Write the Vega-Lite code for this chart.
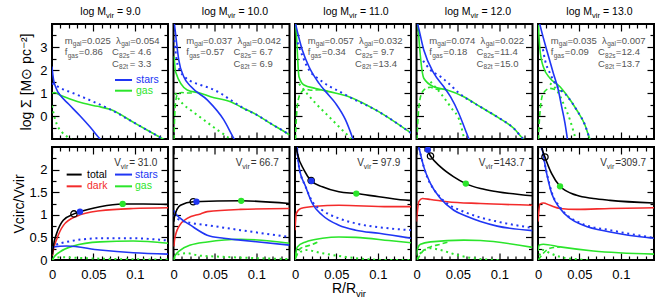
{
"$schema":"https://vega.github.io/schema/vega-lite/v6.json",
"autosize":{"type":"none"},
"padding":{"left":51,"top":24,"right":613,"bottom":282},
"config":{"font":"Liberation Sans","view":{"stroke":"#000","strokeWidth":2},
 "axis":{"grid":false,"domain":false,"labelColor":"#000","titleColor":"#000","tickColor":"#000","tickWidth":1.2,"labelFont":"Liberation Sans","titleFont":"Liberation Sans","labelFlush":false,"labelOverlap":false,"titleFontWeight":"normal"}},
"datasets":{
"top":[
{"M":9,"k":"par","a":0.025,"b":0.054,"c":0.86,"d":4.6,"e":3.3},
{"M":10,"k":"par","a":0.037,"b":0.042,"c":0.57,"d":6.7,"e":6.9},
{"M":11,"k":"par","a":0.057,"b":0.032,"c":0.34,"d":9.7,"e":13.4},
{"M":12,"k":"par","a":0.074,"b":0.022,"c":0.18,"d":11.4,"e":15.0},
{"M":13,"k":"par","a":0.035,"b":0.007,"c":0.09,"d":12.4,"e":13.7},
{"M":9,"s":"stars","x":0,"y":2.15},{"M":9,"s":"stars","x":0.001,"y":1.8},{"M":9,"s":"stars","x":0.002,"y":1.55},{"M":9,"s":"stars","x":0.004,"y":1.3},{"M":9,"s":"stars","x":0.007,"y":1.05},{"M":9,"s":"stars","x":0.0097,"y":0.91},{"M":9,"s":"stars","x":0.02,"y":0.52},{"M":9,"s":"stars","x":0.034,"y":0.0},{"M":9,"s":"stars","x":0.046,"y":-0.48},{"M":9,"s":"stars","x":0.058,"y":-1.0},{"M":9,"s":"stars","x":0.062,"y":-1.15},
{"M":9,"s":"starsd","x":0,"y":1.42},{"M":9,"s":"starsd","x":0.01,"y":1.22},{"M":9,"s":"starsd","x":0.03,"y":0.93},{"M":9,"s":"starsd","x":0.05,"y":0.62},{"M":9,"s":"starsd","x":0.07,"y":0.29},{"M":9,"s":"starsd","x":0.1,"y":-0.31},{"M":9,"s":"starsd","x":0.134,"y":-1.0},{"M":9,"s":"starsd","x":0.14,"y":-1.12},
{"M":9,"s":"gas","x":0,"y":1.0},{"M":9,"s":"gas","x":0.003,"y":1.02},{"M":9,"s":"gas","x":0.01,"y":0.9},{"M":9,"s":"gas","x":0.02,"y":0.76},{"M":9,"s":"gas","x":0.038,"y":0.55},{"M":9,"s":"gas","x":0.055,"y":0.42},{"M":9,"s":"gas","x":0.07,"y":0.29},{"M":9,"s":"gas","x":0.1,"y":-0.31},{"M":9,"s":"gas","x":0.134,"y":-1.0},{"M":9,"s":"gas","x":0.14,"y":-1.12},
{"M":9,"s":"gasd","x":0,"y":0.45},{"M":9,"s":"gasd","x":0.002,"y":0.1},{"M":9,"s":"gasd","x":0.0057,"y":-0.35},{"M":9,"s":"gasd","x":0.012,"y":-0.7},{"M":9,"s":"gasd","x":0.0197,"y":-0.94},{"M":9,"s":"gasd","x":0.024,"y":-1.05},
{"M":10,"s":"stars","x":0.0008,"y":4.1},{"M":10,"s":"stars","x":0.0024,"y":3.6},{"M":10,"s":"stars","x":0.0064,"y":2.43},{"M":10,"s":"stars","x":0.0124,"y":1.71},{"M":10,"s":"stars","x":0.021,"y":1.28},{"M":10,"s":"stars","x":0.0407,"y":0.7},{"M":10,"s":"stars","x":0.0607,"y":-0.17},{"M":10,"s":"stars","x":0.0728,"y":-0.97},{"M":10,"s":"stars","x":0.075,"y":-1.1},
{"M":10,"s":"starsd","x":0.001,"y":3.3},{"M":10,"s":"starsd","x":0.004,"y":2.4},{"M":10,"s":"starsd","x":0.008,"y":1.95},{"M":10,"s":"starsd","x":0.013,"y":1.72},{"M":10,"s":"starsd","x":0.0205,"y":1.52},{"M":10,"s":"starsd","x":0.0326,"y":1.35},{"M":10,"s":"starsd","x":0.0447,"y":1.2},{"M":10,"s":"starsd","x":0.0567,"y":0.99},{"M":10,"s":"starsd","x":0.0688,"y":0.7},{"M":10,"s":"starsd","x":0.0849,"y":0.33},{"M":10,"s":"starsd","x":0.101,"y":0.04},{"M":10,"s":"starsd","x":0.117,"y":-0.32},{"M":10,"s":"starsd","x":0.137,"y":-0.75},{"M":10,"s":"starsd","x":0.14,"y":-0.82},
{"M":10,"s":"gas","x":0.0008,"y":2.6},{"M":10,"s":"gas","x":0.0024,"y":1.93},{"M":10,"s":"gas","x":0.0165,"y":1.13},{"M":10,"s":"gas","x":0.0326,"y":0.99},{"M":10,"s":"gas","x":0.0447,"y":0.84},{"M":10,"s":"gas","x":0.0688,"y":0.62},{"M":10,"s":"gas","x":0.0849,"y":0.33},{"M":10,"s":"gas","x":0.101,"y":0.04},{"M":10,"s":"gas","x":0.117,"y":-0.32},{"M":10,"s":"gas","x":0.137,"y":-0.75},{"M":10,"s":"gas","x":0.14,"y":-0.82},
{"M":10,"s":"gasdash","x":0.0005,"y":-1.05},{"M":10,"s":"gasdash","x":0.0012,"y":-0.2},{"M":10,"s":"gasdash","x":0.0025,"y":0.6},{"M":10,"s":"gasdash","x":0.005,"y":0.95},{"M":10,"s":"gasdash","x":0.01,"y":1.02},{"M":10,"s":"gasdash","x":0.016,"y":1.0},{"M":10,"s":"gasdash","x":0.025,"y":1.0},
{"M":10,"s":"gasd","x":0.002,"y":1.0},{"M":10,"s":"gasd","x":0.0045,"y":0.84},{"M":10,"s":"gasd","x":0.012,"y":0.5},{"M":10,"s":"gasd","x":0.0205,"y":0.26},{"M":10,"s":"gasd","x":0.0367,"y":-0.17},{"M":10,"s":"gasd","x":0.0527,"y":-0.6},{"M":10,"s":"gasd","x":0.0648,"y":-0.9},{"M":10,"s":"gasd","x":0.07,"y":-1.05},
{"M":11,"s":"stars","x":0,"y":4.1},{"M":11,"s":"stars","x":0.0088,"y":2.87},{"M":11,"s":"stars","x":0.0169,"y":2.14},{"M":11,"s":"stars","x":0.029,"y":1.42},{"M":11,"s":"stars","x":0.037,"y":1.06},{"M":11,"s":"stars","x":0.049,"y":0.55},{"M":11,"s":"stars","x":0.061,"y":-0.17},{"M":11,"s":"stars","x":0.069,"y":-0.9},{"M":11,"s":"stars","x":0.071,"y":-1.1},
{"M":11,"s":"starsd","x":0.003,"y":3.2},{"M":11,"s":"starsd","x":0.0169,"y":2.0},{"M":11,"s":"starsd","x":0.029,"y":1.6},{"M":11,"s":"starsd","x":0.041,"y":1.3},{"M":11,"s":"starsd","x":0.053,"y":1.08},{"M":11,"s":"starsd","x":0.065,"y":0.84},{"M":11,"s":"starsd","x":0.101,"y":0.19},{"M":11,"s":"starsd","x":0.1376,"y":-0.68},{"M":11,"s":"starsd","x":0.14,"y":-0.74},
{"M":11,"s":"gas","x":0.0005,"y":4.1},{"M":11,"s":"gas","x":0.0016,"y":3.6},{"M":11,"s":"gas","x":0.0048,"y":1.71},{"M":11,"s":"gas","x":0.0109,"y":1.35},{"M":11,"s":"gas","x":0.025,"y":1.2},{"M":11,"s":"gas","x":0.041,"y":1.06},{"M":11,"s":"gas","x":0.065,"y":0.84},{"M":11,"s":"gas","x":0.101,"y":0.19},{"M":11,"s":"gas","x":0.1376,"y":-0.68},{"M":11,"s":"gas","x":0.14,"y":-0.74},
{"M":11,"s":"gasdash","x":0.0005,"y":-1.05},{"M":11,"s":"gasdash","x":0.0015,"y":-0.2},{"M":11,"s":"gasdash","x":0.003,"y":0.5},{"M":11,"s":"gasdash","x":0.0069,"y":1.0},{"M":11,"s":"gasdash","x":0.0129,"y":1.16},{"M":11,"s":"gasdash","x":0.0189,"y":1.12},{"M":11,"s":"gasdash","x":0.03,"y":1.14},{"M":11,"s":"gasdash","x":0.041,"y":1.06},
{"M":11,"s":"gasd","x":0.005,"y":1.4},{"M":11,"s":"gasd","x":0.0109,"y":1.13},{"M":11,"s":"gasd","x":0.025,"y":0.55},{"M":11,"s":"gasd","x":0.041,"y":-0.03},{"M":11,"s":"gasd","x":0.057,"y":-0.61},{"M":11,"s":"gasd","x":0.065,"y":-0.9},{"M":11,"s":"gasd","x":0.068,"y":-1.05},
{"M":12,"s":"stars","x":0.0005,"y":4.1},{"M":12,"s":"stars","x":0.0016,"y":3.96},{"M":12,"s":"stars","x":0.0088,"y":2.87},{"M":12,"s":"stars","x":0.0209,"y":1.86},{"M":12,"s":"stars","x":0.033,"y":1.27},{"M":12,"s":"stars","x":0.041,"y":0.84},{"M":12,"s":"stars","x":0.051,"y":0.12},{"M":12,"s":"stars","x":0.059,"y":-0.61},{"M":12,"s":"stars","x":0.063,"y":-0.97},{"M":12,"s":"stars","x":0.065,"y":-1.1},
{"M":12,"s":"starsd","x":0.008,"y":2.4},{"M":12,"s":"starsd","x":0.0169,"y":2.0},{"M":12,"s":"starsd","x":0.029,"y":1.71},{"M":12,"s":"starsd","x":0.041,"y":1.35},{"M":12,"s":"starsd","x":0.0491,"y":1.06},{"M":12,"s":"starsd","x":0.057,"y":0.84},{"M":12,"s":"starsd","x":0.077,"y":0.4},{"M":12,"s":"starsd","x":0.097,"y":-0.03},{"M":12,"s":"starsd","x":0.1175,"y":-0.54},{"M":12,"s":"starsd","x":0.1295,"y":-1.01},{"M":12,"s":"starsd","x":0.132,"y":-1.07},
{"M":12,"s":"gas","x":0.001,"y":4.1},{"M":12,"s":"gas","x":0.0016,"y":3.96},{"M":12,"s":"gas","x":0.004,"y":2.87},{"M":12,"s":"gas","x":0.0069,"y":1.93},{"M":12,"s":"gas","x":0.0088,"y":1.64},{"M":12,"s":"gas","x":0.0209,"y":1.27},{"M":12,"s":"gas","x":0.037,"y":1.13},{"M":12,"s":"gas","x":0.057,"y":0.84},{"M":12,"s":"gas","x":0.077,"y":0.4},{"M":12,"s":"gas","x":0.097,"y":-0.03},{"M":12,"s":"gas","x":0.1175,"y":-0.54},{"M":12,"s":"gas","x":0.1295,"y":-1.01},{"M":12,"s":"gas","x":0.132,"y":-1.07},
{"M":12,"s":"gasdash","x":0.0005,"y":-1.05},{"M":12,"s":"gasdash","x":0.002,"y":0.0},{"M":12,"s":"gasdash","x":0.004,"y":0.7},{"M":12,"s":"gasdash","x":0.0088,"y":1.13},{"M":12,"s":"gasdash","x":0.0169,"y":1.25},{"M":12,"s":"gasdash","x":0.0229,"y":1.16},{"M":12,"s":"gasdash","x":0.03,"y":1.18},{"M":12,"s":"gasdash","x":0.037,"y":1.13},
{"M":12,"s":"gasd","x":0.0169,"y":1.49},{"M":12,"s":"gasd","x":0.029,"y":0.99},{"M":12,"s":"gasd","x":0.041,"y":0.4},{"M":12,"s":"gasd","x":0.0531,"y":-0.32},{"M":12,"s":"gasd","x":0.0571,"y":-0.9},{"M":12,"s":"gasd","x":0.059,"y":-1.05},
{"M":13,"s":"stars","x":0.0015,"y":4.1},{"M":13,"s":"stars","x":0.0024,"y":3.96},{"M":13,"s":"stars","x":0.0105,"y":2.87},{"M":13,"s":"stars","x":0.0185,"y":1.86},{"M":13,"s":"stars","x":0.0245,"y":1.13},{"M":13,"s":"stars","x":0.0286,"y":0.4},{"M":13,"s":"stars","x":0.0326,"y":-0.32},{"M":13,"s":"stars","x":0.0354,"y":-0.97},{"M":13,"s":"stars","x":0.036,"y":-1.1},
{"M":13,"s":"starsd","x":0.006,"y":2.9},{"M":13,"s":"starsd","x":0.0085,"y":2.43},{"M":13,"s":"starsd","x":0.0145,"y":1.86},{"M":13,"s":"starsd","x":0.0205,"y":1.42},{"M":13,"s":"starsd","x":0.0266,"y":1.15},{"M":13,"s":"starsd","x":0.033,"y":0.95},{"M":13,"s":"starsd","x":0.0467,"y":0.26},{"M":13,"s":"starsd","x":0.0567,"y":-0.39},{"M":13,"s":"starsd","x":0.0628,"y":-1.01},{"M":13,"s":"starsd","x":0.064,"y":-1.1},
{"M":13,"s":"gas","x":0.0004,"y":3.96},{"M":13,"s":"gas","x":0.0024,"y":2.87},{"M":13,"s":"gas","x":0.0064,"y":2.14},{"M":13,"s":"gas","x":0.0145,"y":1.64},{"M":13,"s":"gas","x":0.0266,"y":1.27},{"M":13,"s":"gas","x":0.0346,"y":0.91},{"M":13,"s":"gas","x":0.0467,"y":0.26},{"M":13,"s":"gas","x":0.0567,"y":-0.39},{"M":13,"s":"gas","x":0.0628,"y":-1.01},{"M":13,"s":"gas","x":0.064,"y":-1.1},
{"M":13,"s":"gasdash","x":0.0005,"y":-1.05},{"M":13,"s":"gasdash","x":0.0015,"y":-0.3},{"M":13,"s":"gasdash","x":0.003,"y":0.4},{"M":13,"s":"gasdash","x":0.0064,"y":0.99},{"M":13,"s":"gasdash","x":0.0145,"y":1.2},{"M":13,"s":"gasdash","x":0.0226,"y":1.13},{"M":13,"s":"gasdash","x":0.03,"y":1.08},
{"M":13,"s":"gasd","x":0.0145,"y":1.42},{"M":13,"s":"gasd","x":0.0226,"y":1.13},{"M":13,"s":"gasd","x":0.0306,"y":0.55},{"M":13,"s":"gasd","x":0.0386,"y":-0.17},{"M":13,"s":"gasd","x":0.0447,"y":-0.9},{"M":13,"s":"gasd","x":0.046,"y":-1.05}
],
"bot":[
{"M":9,"k":"par","v":31.0},{"M":10,"k":"par","v":66.7},{"M":11,"k":"par","v":97.9},{"M":12,"k":"par","v":143.7},{"M":13,"k":"par","v":309.7},
{"M":9,"k":"mk","t":"total","x":0.0265,"y":1.02},{"M":9,"k":"mk","t":"stars","x":0.0338,"y":1.07},{"M":9,"k":"mk","t":"gas","x":0.0853,"y":1.24},
{"M":10,"k":"mk","t":"total","x":0.0238,"y":1.29},{"M":10,"k":"mk","t":"stars","x":0.0277,"y":1.29},{"M":10,"k":"mk","t":"gas","x":0.0817,"y":1.31},
{"M":11,"k":"mk","t":"total","x":0.0195,"y":1.76},{"M":11,"k":"mk","t":"stars","x":0.0197,"y":1.75},{"M":11,"k":"mk","t":"gas","x":0.074,"y":1.47},
{"M":12,"k":"mk","t":"total","x":0.0169,"y":2.3},{"M":12,"k":"mk","t":"stars","x":0.0137,"y":2.44},{"M":12,"k":"mk","t":"gas","x":0.0595,"y":1.69},
{"M":13,"k":"mk","t":"total","x":0.0084,"y":2.28},{"M":13,"k":"mk","t":"gas","x":0.0266,"y":1.63},
{"M":9,"s":"total","x":0.0005,"y":0.12},{"M":9,"s":"total","x":0.0016,"y":0.3},{"M":9,"s":"total","x":0.0057,"y":0.59},{"M":9,"s":"total","x":0.0136,"y":0.88},{"M":9,"s":"total","x":0.0265,"y":1.02},{"M":9,"s":"total","x":0.0338,"y":1.07},{"M":9,"s":"total","x":0.0579,"y":1.18},{"M":9,"s":"total","x":0.0853,"y":1.24},{"M":9,"s":"total","x":0.11,"y":1.24},{"M":9,"s":"total","x":0.14,"y":1.23},
{"M":9,"s":"dark","x":0.0005,"y":0.1},{"M":9,"s":"dark","x":0.0016,"y":0.22},{"M":9,"s":"dark","x":0.0057,"y":0.46},{"M":9,"s":"dark","x":0.0136,"y":0.76},{"M":9,"s":"dark","x":0.0298,"y":0.97},{"M":9,"s":"dark","x":0.0579,"y":1.09},{"M":9,"s":"dark","x":0.0981,"y":1.14},{"M":9,"s":"dark","x":0.14,"y":1.155},
{"M":9,"s":"stars","x":0.0005,"y":0.25},{"M":9,"s":"stars","x":0.0016,"y":0.29},{"M":9,"s":"stars","x":0.0177,"y":0.31},{"M":9,"s":"stars","x":0.0579,"y":0.22},{"M":9,"s":"stars","x":0.0981,"y":0.16},{"M":9,"s":"stars","x":0.14,"y":0.13},
{"M":9,"s":"starsd","x":0.0005,"y":0.25},{"M":9,"s":"starsd","x":0.0016,"y":0.3},{"M":9,"s":"starsd","x":0.0177,"y":0.4},{"M":9,"s":"starsd","x":0.0579,"y":0.48},{"M":9,"s":"starsd","x":0.0981,"y":0.48},{"M":9,"s":"starsd","x":0.14,"y":0.43},
{"M":9,"s":"gas","x":0.0005,"y":0.0},{"M":9,"s":"gas","x":0.0016,"y":0.04},{"M":9,"s":"gas","x":0.0097,"y":0.18},{"M":9,"s":"gas","x":0.0257,"y":0.31},{"M":9,"s":"gas","x":0.0579,"y":0.4},{"M":9,"s":"gas","x":0.0981,"y":0.42},{"M":9,"s":"gas","x":0.14,"y":0.37},
{"M":9,"s":"gasd","x":0.0005,"y":0.0},{"M":9,"s":"gasd","x":0.005,"y":0.05},{"M":9,"s":"gasd","x":0.012,"y":0.06},{"M":9,"s":"gasd","x":0.04,"y":0.04},{"M":9,"s":"gasd","x":0.08,"y":0.02},{"M":9,"s":"gasd","x":0.14,"y":0.01},
{"M":10,"s":"total","x":0.0005,"y":0.85},{"M":10,"s":"total","x":0.0012,"y":0.96},{"M":10,"s":"total","x":0.0084,"y":1.21},{"M":10,"s":"total","x":0.0238,"y":1.29},{"M":10,"s":"total","x":0.0817,"y":1.31},{"M":10,"s":"total","x":0.14,"y":1.25},
{"M":10,"s":"dark","x":0.0005,"y":0.3},{"M":10,"s":"dark","x":0.0012,"y":0.44},{"M":10,"s":"dark","x":0.0064,"y":0.74},{"M":10,"s":"dark","x":0.0165,"y":0.92},{"M":10,"s":"dark","x":0.0326,"y":1.02},{"M":10,"s":"dark","x":0.0407,"y":1.07},{"M":10,"s":"dark","x":0.0809,"y":1.12},{"M":10,"s":"dark","x":0.14,"y":1.14},
{"M":10,"s":"stars","x":0.0005,"y":1.1},{"M":10,"s":"stars","x":0.0012,"y":1.07},{"M":10,"s":"stars","x":0.0084,"y":0.92},{"M":10,"s":"stars","x":0.0205,"y":0.77},{"M":10,"s":"stars","x":0.0407,"y":0.55},{"M":10,"s":"stars","x":0.0607,"y":0.48},{"M":10,"s":"stars","x":0.0809,"y":0.44},{"M":10,"s":"stars","x":0.14,"y":0.33},
{"M":10,"s":"starsd","x":0.0005,"y":1.0},{"M":10,"s":"starsd","x":0.0012,"y":0.96},{"M":10,"s":"starsd","x":0.0084,"y":0.88},{"M":10,"s":"starsd","x":0.0245,"y":0.81},{"M":10,"s":"starsd","x":0.0407,"y":0.77},{"M":10,"s":"starsd","x":0.0809,"y":0.66},{"M":10,"s":"starsd","x":0.14,"y":0.51},
{"M":10,"s":"gas","x":0.0005,"y":0.0},{"M":10,"s":"gas","x":0.0012,"y":0.07},{"M":10,"s":"gas","x":0.0084,"y":0.22},{"M":10,"s":"gas","x":0.0205,"y":0.33},{"M":10,"s":"gas","x":0.0407,"y":0.4},{"M":10,"s":"gas","x":0.0809,"y":0.46},{"M":10,"s":"gas","x":0.14,"y":0.37},
{"M":10,"s":"gasd","x":0.0005,"y":0.02},{"M":10,"s":"gasd","x":0.005,"y":0.12},{"M":10,"s":"gasd","x":0.0165,"y":0.15},{"M":10,"s":"gasd","x":0.03,"y":0.1},{"M":10,"s":"gasd","x":0.06,"y":0.07},{"M":10,"s":"gasd","x":0.14,"y":0.02},
{"M":11,"s":"total","x":0.0003,"y":2.6},{"M":11,"s":"total","x":0.0028,"y":2.36},{"M":11,"s":"total","x":0.0109,"y":1.99},{"M":11,"s":"total","x":0.0197,"y":1.75},{"M":11,"s":"total","x":0.033,"y":1.62},{"M":11,"s":"total","x":0.053,"y":1.51},{"M":11,"s":"total","x":0.074,"y":1.47},{"M":11,"s":"total","x":0.1014,"y":1.4},{"M":11,"s":"total","x":0.1376,"y":1.32},{"M":11,"s":"total","x":0.14,"y":1.32},
{"M":11,"s":"dark","x":0,"y":0.66},{"M":11,"s":"dark","x":0.0016,"y":1.03},{"M":11,"s":"dark","x":0.0069,"y":1.14},{"M":11,"s":"dark","x":0.025,"y":1.19},{"M":11,"s":"dark","x":0.053,"y":1.21},{"M":11,"s":"dark","x":0.1134,"y":1.18},{"M":11,"s":"dark","x":0.14,"y":1.18},
{"M":11,"s":"stars","x":0.002,"y":2.6},{"M":11,"s":"stars","x":0.0048,"y":2.06},{"M":11,"s":"stars","x":0.0129,"y":1.62},{"M":11,"s":"stars","x":0.0209,"y":1.25},{"M":11,"s":"stars","x":0.033,"y":0.99},{"M":11,"s":"stars","x":0.053,"y":0.77},{"M":11,"s":"stars","x":0.0733,"y":0.66},{"M":11,"s":"stars","x":0.1014,"y":0.59},{"M":11,"s":"stars","x":0.14,"y":0.48},
{"M":11,"s":"starsd","x":0.002,"y":2.6},{"M":11,"s":"starsd","x":0.0048,"y":2.06},{"M":11,"s":"starsd","x":0.0129,"y":1.62},{"M":11,"s":"starsd","x":0.0209,"y":1.29},{"M":11,"s":"starsd","x":0.033,"y":1.1},{"M":11,"s":"starsd","x":0.053,"y":0.92},{"M":11,"s":"starsd","x":0.0733,"y":0.81},{"M":11,"s":"starsd","x":0.1134,"y":0.7},{"M":11,"s":"starsd","x":0.14,"y":0.66},
{"M":11,"s":"gas","x":0,"y":0.0},{"M":11,"s":"gas","x":0.0028,"y":0.29},{"M":11,"s":"gas","x":0.0129,"y":0.4},{"M":11,"s":"gas","x":0.033,"y":0.48},{"M":11,"s":"gas","x":0.053,"y":0.51},{"M":11,"s":"gas","x":0.0733,"y":0.5},{"M":11,"s":"gas","x":0.1134,"y":0.43},{"M":11,"s":"gas","x":0.14,"y":0.38},
{"M":11,"s":"gasdash","x":0.0008,"y":0.04},{"M":11,"s":"gasdash","x":0.0069,"y":0.26},{"M":11,"s":"gasdash","x":0.0189,"y":0.33},{"M":11,"s":"gasdash","x":0.03,"y":0.42},
{"M":11,"s":"gasd","x":0.0008,"y":0.1},{"M":11,"s":"gasd","x":0.0129,"y":0.22},{"M":11,"s":"gasd","x":0.033,"y":0.15},{"M":11,"s":"gasd","x":0.0733,"y":0.04},{"M":11,"s":"gasd","x":0.1134,"y":0.0},{"M":11,"s":"gasd","x":0.14,"y":0.0},
{"M":12,"s":"total","x":0.009,"y":2.55},{"M":12,"s":"total","x":0.0109,"y":2.5},{"M":12,"s":"total","x":0.0169,"y":2.3},{"M":12,"s":"total","x":0.029,"y":2.06},{"M":12,"s":"total","x":0.045,"y":1.84},{"M":12,"s":"total","x":0.0595,"y":1.69},{"M":12,"s":"total","x":0.0772,"y":1.58},{"M":12,"s":"total","x":0.0974,"y":1.51},{"M":12,"s":"total","x":0.14,"y":1.42},
{"M":12,"s":"dark","x":0,"y":0.85},{"M":12,"s":"dark","x":0.0028,"y":1.29},{"M":12,"s":"dark","x":0.0069,"y":1.36},{"M":12,"s":"dark","x":0.0169,"y":1.34},{"M":12,"s":"dark","x":0.037,"y":1.29},{"M":12,"s":"dark","x":0.0772,"y":1.25},{"M":12,"s":"dark","x":0.14,"y":1.21},
{"M":12,"s":"stars","x":0.0015,"y":2.6},{"M":12,"s":"stars","x":0.0028,"y":2.5},{"M":12,"s":"stars","x":0.0088,"y":2.06},{"M":12,"s":"stars","x":0.0169,"y":1.69},{"M":12,"s":"stars","x":0.029,"y":1.36},{"M":12,"s":"stars","x":0.045,"y":1.1},{"M":12,"s":"stars","x":0.0612,"y":0.96},{"M":12,"s":"stars","x":0.0772,"y":0.85},{"M":12,"s":"stars","x":0.0974,"y":0.75},{"M":12,"s":"stars","x":0.14,"y":0.65},
{"M":12,"s":"starsd","x":0.0015,"y":2.6},{"M":12,"s":"starsd","x":0.0088,"y":2.06},{"M":12,"s":"starsd","x":0.029,"y":1.38},{"M":12,"s":"starsd","x":0.037,"y":1.25},{"M":12,"s":"starsd","x":0.057,"y":1.07},{"M":12,"s":"starsd","x":0.0772,"y":0.94},{"M":12,"s":"starsd","x":0.0974,"y":0.85},{"M":12,"s":"starsd","x":0.14,"y":0.71},
{"M":12,"s":"gas","x":0,"y":0.1},{"M":12,"s":"gas","x":0.0008,"y":0.22},{"M":12,"s":"gas","x":0.0048,"y":0.35},{"M":12,"s":"gas","x":0.0169,"y":0.4},{"M":12,"s":"gas","x":0.057,"y":0.44},{"M":12,"s":"gas","x":0.0772,"y":0.43},{"M":12,"s":"gas","x":0.14,"y":0.28},
{"M":12,"s":"gasdash","x":0.0008,"y":0.0},{"M":12,"s":"gasdash","x":0.0088,"y":0.22},{"M":12,"s":"gasdash","x":0.0169,"y":0.29},{"M":12,"s":"gasdash","x":0.029,"y":0.35},{"M":12,"s":"gasdash","x":0.04,"y":0.41},
{"M":12,"s":"gasd","x":0.0008,"y":0.02},{"M":12,"s":"gasd","x":0.0048,"y":0.15},{"M":12,"s":"gasd","x":0.0169,"y":0.26},{"M":12,"s":"gasd","x":0.029,"y":0.22},{"M":12,"s":"gasd","x":0.049,"y":0.11},{"M":12,"s":"gasd","x":0.0772,"y":0.02},{"M":12,"s":"gasd","x":0.1,"y":0.0},
{"M":13,"s":"total","x":0.0035,"y":2.6},{"M":13,"s":"total","x":0.0045,"y":2.5},{"M":13,"s":"total","x":0.0084,"y":2.28},{"M":13,"s":"total","x":0.0165,"y":1.91},{"M":13,"s":"total","x":0.0266,"y":1.63},{"M":13,"s":"total","x":0.0467,"y":1.43},{"M":13,"s":"total","x":0.0667,"y":1.36},{"M":13,"s":"total","x":0.0869,"y":1.32},{"M":13,"s":"total","x":0.14,"y":1.26},
{"M":13,"s":"dark","x":0,"y":0.85},{"M":13,"s":"dark","x":0.0024,"y":1.24},{"M":13,"s":"dark","x":0.0064,"y":1.26},{"M":13,"s":"dark","x":0.0145,"y":1.21},{"M":13,"s":"dark","x":0.0266,"y":1.14},{"M":13,"s":"dark","x":0.0467,"y":1.12},{"M":13,"s":"dark","x":0.0869,"y":1.14},{"M":13,"s":"dark","x":0.14,"y":1.155},
{"M":13,"s":"stars","x":0.003,"y":2.6},{"M":13,"s":"stars","x":0.0045,"y":2.5},{"M":13,"s":"stars","x":0.0105,"y":1.91},{"M":13,"s":"stars","x":0.0165,"y":1.47},{"M":13,"s":"stars","x":0.0266,"y":1.14},{"M":13,"s":"stars","x":0.0386,"y":0.92},{"M":13,"s":"stars","x":0.0547,"y":0.77},{"M":13,"s":"stars","x":0.0869,"y":0.62},{"M":13,"s":"stars","x":0.14,"y":0.48},
{"M":13,"s":"starsd","x":0.003,"y":2.6},{"M":13,"s":"starsd","x":0.0105,"y":1.93},{"M":13,"s":"starsd","x":0.0165,"y":1.5},{"M":13,"s":"starsd","x":0.0266,"y":1.17},{"M":13,"s":"starsd","x":0.0547,"y":0.79},{"M":13,"s":"starsd","x":0.0869,"y":0.66},{"M":13,"s":"starsd","x":0.14,"y":0.49},
{"M":13,"s":"gas","x":0,"y":0.2},{"M":13,"s":"gas","x":0.0016,"y":0.33},{"M":13,"s":"gas","x":0.0064,"y":0.35},{"M":13,"s":"gas","x":0.0266,"y":0.29},{"M":13,"s":"gas","x":0.0667,"y":0.2},{"M":13,"s":"gas","x":0.14,"y":0.13},
{"M":13,"s":"gasdash","x":0.0004,"y":0.0},{"M":13,"s":"gasdash","x":0.0064,"y":0.15},{"M":13,"s":"gasdash","x":0.0145,"y":0.26},{"M":13,"s":"gasdash","x":0.0266,"y":0.29},
{"M":13,"s":"gasd","x":0.0016,"y":0.1},{"M":13,"s":"gasd","x":0.0064,"y":0.22},{"M":13,"s":"gasd","x":0.0145,"y":0.15},{"M":13,"s":"gasd","x":0.0266,"y":0.07},{"M":13,"s":"gasd","x":0.045,"y":0.02},{"M":13,"s":"gasd","x":0.06,"y":0.0}
]},
"columns":2,
"spacing":{"row":8,"column":0},
"bounds":"flush",
"align":"each",
"concat":[
 {"width":1,"height":115,"view":{"stroke":null},"data":{"name":"top"},"transform":[{"filter":"datum.k=='par'&&datum.M==9"}],
  "mark":{"type":"point","opacity":0},
  "encoding":{"y":{"datum":0,"type":"quantitative","scale":{"domain":[-1,4],"nice":false},
   "axis":{"values":[0,1,2,3],"format":"~g","ticks":false,"domain":false,"labelPadding":4,"labelFontSize":13,"title":"log Σ [M⊙ pc⁻²]","titleFontSize":14,"titlePadding":4,"minExtent":14,"maxExtent":14}}}},
 {"data":{"name":"top"},
  "facet":{"column":{"field":"M","type":"ordinal","title":null,"header":{"labels":false,"title":null}}},
  "spacing":5.5,"bounds":"flush",
  "resolve":{"axis":{"x":"independent","y":"independent"}},
  "spec":{"width":116,"height":115,
   "resolve":{"axis":{"x":"independent","y":"independent"}},
   "layer":[
    {"transform":[{"filter":"datum.k=='par'"}],"mark":{"type":"point","opacity":0},
     "encoding":{"x":{"datum":0,"type":"quantitative","scale":{"domain":[0,0.14],"nice":false},"axis":{"orient":"bottom","values":[0,0.01,0.02,0.03,0.04,0.05,0.06,0.07,0.08,0.09,0.1,0.11,0.12,0.13],"labels":false,"title":null,"minExtent":0,"maxExtent":0,"tickSize":{"condition":{"test":"abs(datum.value*20-round(datum.value*20))<0.001","value":-7},"value":-4}}},
                 "y":{"datum":0,"type":"quantitative","scale":{"domain":[-1,4],"nice":false},"axis":{"orient":"left","values":[-0.5,0,0.5,1,1.5,2,2.5,3,3.5],"labels":false,"title":null,"minExtent":0,"maxExtent":0,"tickSize":{"condition":{"test":"abs(datum.value-round(datum.value))<0.001","value":-7},"value":-4}}}}},
    {"transform":[{"filter":"datum.k=='par'"}],"mark":{"type":"point","opacity":0},
     "encoding":{"x":{"datum":0,"type":"quantitative","scale":{"domain":[0,0.14],"nice":false},"axis":{"orient":"top","values":[0,0.01,0.02,0.03,0.04,0.05,0.06,0.07,0.08,0.09,0.1,0.11,0.12,0.13],"labels":false,"title":null,"minExtent":0,"maxExtent":0,"tickSize":{"condition":{"test":"abs(datum.value*20-round(datum.value*20))<0.001","value":-7},"value":-4}}},
                 "y":{"datum":0,"type":"quantitative","scale":{"domain":[-1,4],"nice":false},"axis":{"orient":"right","values":[-0.5,0,0.5,1,1.5,2,2.5,3,3.5],"labels":false,"title":null,"minExtent":0,"maxExtent":0,"tickSize":{"condition":{"test":"abs(datum.value-round(datum.value))<0.001","value":-7},"value":-4}}}}},
    {"transform":[{"filter":"datum.s=='gasd'"}],"mark":{"type":"line","clip":true,"interpolate":"monotone","color":"#2be52b","strokeWidth":2,"strokeDash":[2,3.7]},"encoding":{"x":{"field":"x","type":"quantitative","axis":null},"y":{"field":"y","type":"quantitative","axis":null}}},
    {"transform":[{"filter":"datum.s=='gasdash'"}],"mark":{"type":"line","clip":true,"interpolate":"monotone","color":"#2be52b","strokeWidth":1.6,"strokeDash":[5,3]},"encoding":{"x":{"field":"x","type":"quantitative","axis":null},"y":{"field":"y","type":"quantitative","axis":null}}},
    {"transform":[{"filter":"datum.s=='gas'"}],"mark":{"type":"line","clip":true,"interpolate":"monotone","color":"#2be52b","strokeWidth":1.6},"encoding":{"x":{"field":"x","type":"quantitative","axis":null},"y":{"field":"y","type":"quantitative","axis":null}}},
    {"transform":[{"filter":"datum.s=='stars'"}],"mark":{"type":"line","clip":true,"interpolate":"monotone","color":"#2036f4","strokeWidth":1.6},"encoding":{"x":{"field":"x","type":"quantitative","axis":null},"y":{"field":"y","type":"quantitative","axis":null}}},
    {"transform":[{"filter":"datum.s=='starsd'"}],"mark":{"type":"line","clip":true,"interpolate":"monotone","color":"#2036f4","strokeWidth":2,"strokeDash":[2,3.7]},"encoding":{"x":{"field":"x","type":"quantitative","axis":null},"y":{"field":"y","type":"quantitative","axis":null}}},
    {"transform":[{"filter":"datum.k=='par'"}],"mark":{"type":"text","text":"log M","fontSize":10.5,"align":"right","baseline":"alphabetic","dx":-4,"fill":"#000"},"encoding":{"x":{"datum":0.07,"type":"quantitative","axis":null},"y":{"datum":4.39,"type":"quantitative","axis":null}}},
    {"transform":[{"filter":"datum.k=='par'"}],"mark":{"type":"text","text":"vir","fontSize":7.5,"align":"left","baseline":"alphabetic","dx":-4,"dy":3,"fill":"#000"},"encoding":{"x":{"datum":0.07,"type":"quantitative","axis":null},"y":{"datum":4.39,"type":"quantitative","axis":null}}},
    {"transform":[{"filter":"datum.k=='par'"}],"mark":{"type":"text","text":{"expr":"'= ' + format(datum.M,'.1f')"},"fontSize":10.5,"align":"left","baseline":"alphabetic","dx":7,"fill":"#000"},"encoding":{"x":{"datum":0.07,"type":"quantitative","axis":null},"y":{"datum":4.39,"type":"quantitative","axis":null}}},
    {"transform":[{"filter":"datum.k=='par'"}],"mark":{"type":"text","text":["m","f"],"fontSize":9.5,"lineHeight":11.7,"align":"left","baseline":"alphabetic","fill":"#555"},"encoding":{"x":{"datum":0.0155,"type":"quantitative","axis":null},"y":{"datum":3.15,"type":"quantitative","axis":null}}},
    {"transform":[{"filter":"datum.k=='par'"}],"mark":{"type":"text","text":"gal","fontSize":6.5,"align":"left","baseline":"alphabetic","dx":8,"dy":2.5,"fill":"#555"},"encoding":{"x":{"datum":0.0155,"type":"quantitative","axis":null},"y":{"datum":3.15,"type":"quantitative","axis":null}}},
    {"transform":[{"filter":"datum.k=='par'"}],"mark":{"type":"text","text":"gas","fontSize":6.5,"align":"left","baseline":"alphabetic","dx":2.9,"dy":2.5,"fill":"#555"},"encoding":{"x":{"datum":0.0155,"type":"quantitative","axis":null},"y":{"datum":2.64,"type":"quantitative","axis":null}}},
    {"transform":[{"filter":"datum.k=='par'"}],"mark":{"type":"text","text":{"expr":"'=' + format(datum.a,'.3f')"},"fontSize":9.5,"align":"left","baseline":"alphabetic","dx":16.6,"fill":"#555"},"encoding":{"x":{"datum":0.0155,"type":"quantitative","axis":null},"y":{"datum":3.15,"type":"quantitative","axis":null}}},
    {"transform":[{"filter":"datum.k=='par'"}],"mark":{"type":"text","text":{"expr":"'=' + format(datum.c,'.2f')"},"fontSize":9.5,"align":"left","baseline":"alphabetic","dx":14,"fill":"#555"},"encoding":{"x":{"datum":0.0155,"type":"quantitative","axis":null},"y":{"datum":2.64,"type":"quantitative","axis":null}}},
    {"transform":[{"filter":"datum.k=='par'"}],"mark":{"type":"text","text":"λ","fontSize":9.5,"align":"left","baseline":"alphabetic","fill":"#555"},"encoding":{"x":{"datum":0.0772,"type":"quantitative","axis":null},"y":{"datum":3.15,"type":"quantitative","axis":null}}},
    {"transform":[{"filter":"datum.k=='par'"}],"mark":{"type":"text","text":"gal","fontSize":6.5,"align":"left","baseline":"alphabetic","dx":5.2,"dy":2.5,"fill":"#555"},"encoding":{"x":{"datum":0.0772,"type":"quantitative","axis":null},"y":{"datum":3.15,"type":"quantitative","axis":null}}},
    {"transform":[{"filter":"datum.k=='par'"}],"mark":{"type":"text","text":{"expr":"'=' + format(datum.b,'.3f')"},"fontSize":9.5,"align":"left","baseline":"alphabetic","dx":14.3,"fill":"#555"},"encoding":{"x":{"datum":0.0772,"type":"quantitative","axis":null},"y":{"datum":3.15,"type":"quantitative","axis":null}}},
    {"transform":[{"filter":"datum.k=='par'"}],"mark":{"type":"text","text":["C","C"],"fontSize":9.5,"lineHeight":11.7,"align":"left","baseline":"alphabetic","fill":"#555"},"encoding":{"x":{"datum":0.0725,"type":"quantitative","axis":null},"y":{"datum":2.64,"type":"quantitative","axis":null}}},
    {"transform":[{"filter":"datum.k=='par'"}],"mark":{"type":"text","text":["82s","82t"],"fontSize":6.5,"lineHeight":11.7,"align":"left","baseline":"alphabetic","dx":7,"dy":2.5,"fill":"#555"},"encoding":{"x":{"datum":0.0725,"type":"quantitative","axis":null},"y":{"datum":2.64,"type":"quantitative","axis":null}}},
    {"transform":[{"filter":"datum.k=='par'"}],"mark":{"type":"text","text":{"expr":"['=' + (datum.d<10?' ':'') + format(datum.d,'.1f'), '=' + (datum.e<10?' ':'') + format(datum.e,'.1f')]"},"fontSize":9.5,"lineHeight":11.7,"align":"left","baseline":"alphabetic","dx":17.8,"fill":"#555"},"encoding":{"x":{"datum":0.0725,"type":"quantitative","axis":null},"y":{"datum":2.64,"type":"quantitative","axis":null}}},
    {"transform":[{"filter":"datum.k=='par'&&datum.M==9"}],"mark":{"type":"rule","color":"#2036f4","strokeWidth":2},"encoding":{"x":{"datum":0.076,"type":"quantitative","axis":null},"x2":{"datum":0.0966},"y":{"datum":1.565,"type":"quantitative","axis":null}}},
    {"transform":[{"filter":"datum.k=='par'&&datum.M==9"}],"mark":{"type":"rule","color":"#2be52b","strokeWidth":2},"encoding":{"x":{"datum":0.076,"type":"quantitative","axis":null},"x2":{"datum":0.0966},"y":{"datum":1.1,"type":"quantitative","axis":null}}},
    {"transform":[{"filter":"datum.k=='par'&&datum.M==9"}],"mark":{"type":"text","text":"stars","fontSize":10.5,"align":"left","baseline":"middle","fill":"#2036f4"},"encoding":{"x":{"datum":0.1014,"type":"quantitative","axis":null},"y":{"datum":1.565,"type":"quantitative","axis":null}}},
    {"transform":[{"filter":"datum.k=='par'&&datum.M==9"}],"mark":{"type":"text","text":"gas","fontSize":10.5,"align":"left","baseline":"middle","fill":"#2be52b"},"encoding":{"x":{"datum":0.1014,"type":"quantitative","axis":null},"y":{"datum":1.1,"type":"quantitative","axis":null}}}
   ]}},
 {"width":1,"height":113,"view":{"stroke":null},"data":{"name":"bot"},"transform":[{"filter":"datum.k=='par'&&datum.M==9"}],
  "mark":{"type":"point","opacity":0},
  "encoding":{"y":{"datum":0,"type":"quantitative","scale":{"domain":[0,2.5],"nice":false},
   "axis":{"values":[0,0.5,1,1.5,2],"format":"~g","ticks":false,"domain":false,"labelPadding":4,"labelFontSize":13,"title":"Vcirc/Vvir","titleFontSize":14,"titlePadding":11,"minExtent":14,"maxExtent":14}}}},
 {"data":{"name":"bot"},
  "facet":{"column":{"field":"M","type":"ordinal","title":null,"header":{"labels":false,"title":null}}},
  "spacing":5.5,"bounds":"flush",
  "resolve":{"axis":{"x":"independent","y":"independent"}},
  "spec":{"width":116,"height":113,
   "resolve":{"axis":{"x":"independent","y":"independent"}},
   "layer":[
    {"transform":[{"filter":"datum.k=='par'"}],"mark":{"type":"point","opacity":0},
     "encoding":{"x":{"datum":0,"type":"quantitative","scale":{"domain":[0,0.14],"nice":false},"axis":{"orient":"bottom","values":[0,0.01,0.02,0.03,0.04,0.05,0.06,0.07,0.08,0.09,0.1,0.11,0.12,0.13],"labels":true,"labelExpr":"abs(datum.value*20-round(datum.value*20))<0.001 ? format(datum.value,'~g') : ''","labelFontSize":13,"labelPadding":15,"title":null,"minExtent":0,"maxExtent":0,"tickSize":{"condition":{"test":"abs(datum.value*20-round(datum.value*20))<0.001","value":-7},"value":-4}}},
                 "y":{"datum":0,"type":"quantitative","scale":{"domain":[0,2.5],"nice":false},"axis":{"orient":"left","values":[0.25,0.5,0.75,1,1.25,1.5,1.75,2,2.25],"labels":false,"title":null,"minExtent":0,"maxExtent":0,"tickSize":{"condition":{"test":"abs(datum.value*2-round(datum.value*2))<0.001","value":-7},"value":-4}}}}},
    {"transform":[{"filter":"datum.k=='par'"}],"mark":{"type":"point","opacity":0},
     "encoding":{"x":{"datum":0,"type":"quantitative","scale":{"domain":[0,0.14],"nice":false},"axis":{"orient":"top","values":[0,0.01,0.02,0.03,0.04,0.05,0.06,0.07,0.08,0.09,0.1,0.11,0.12,0.13],"labels":false,"title":null,"minExtent":0,"maxExtent":0,"tickSize":{"condition":{"test":"abs(datum.value*20-round(datum.value*20))<0.001","value":-7},"value":-4}}},
                 "y":{"datum":0,"type":"quantitative","scale":{"domain":[0,2.5],"nice":false},"axis":{"orient":"right","values":[0.25,0.5,0.75,1,1.25,1.5,1.75,2,2.25],"labels":false,"title":null,"minExtent":0,"maxExtent":0,"tickSize":{"condition":{"test":"abs(datum.value*2-round(datum.value*2))<0.001","value":-7},"value":-4}}}}},
    {"transform":[{"filter":"datum.s=='gasd'"}],"mark":{"type":"line","clip":true,"interpolate":"monotone","color":"#2be52b","strokeWidth":2,"strokeDash":[2,3.7]},"encoding":{"x":{"field":"x","type":"quantitative","axis":null},"y":{"field":"y","type":"quantitative","axis":null}}},
    {"transform":[{"filter":"datum.s=='gasdash'"}],"mark":{"type":"line","clip":true,"interpolate":"monotone","color":"#2be52b","strokeWidth":1.6,"strokeDash":[5,3]},"encoding":{"x":{"field":"x","type":"quantitative","axis":null},"y":{"field":"y","type":"quantitative","axis":null}}},
    {"transform":[{"filter":"datum.s=='gas'"}],"mark":{"type":"line","clip":true,"interpolate":"monotone","color":"#2be52b","strokeWidth":1.6},"encoding":{"x":{"field":"x","type":"quantitative","axis":null},"y":{"field":"y","type":"quantitative","axis":null}}},
    {"transform":[{"filter":"datum.s=='dark'"}],"mark":{"type":"line","clip":true,"interpolate":"monotone","color":"#f32b2b","strokeWidth":1.6},"encoding":{"x":{"field":"x","type":"quantitative","axis":null},"y":{"field":"y","type":"quantitative","axis":null}}},
    {"transform":[{"filter":"datum.s=='starsd'"}],"mark":{"type":"line","clip":true,"interpolate":"monotone","color":"#2036f4","strokeWidth":2,"strokeDash":[2,3.7]},"encoding":{"x":{"field":"x","type":"quantitative","axis":null},"y":{"field":"y","type":"quantitative","axis":null}}},
    {"transform":[{"filter":"datum.s=='stars'"}],"mark":{"type":"line","clip":true,"interpolate":"monotone","color":"#2036f4","strokeWidth":1.6},"encoding":{"x":{"field":"x","type":"quantitative","axis":null},"y":{"field":"y","type":"quantitative","axis":null}}},
    {"transform":[{"filter":"datum.s=='total'"}],"mark":{"type":"line","clip":true,"interpolate":"monotone","color":"#000","strokeWidth":1.6},"encoding":{"x":{"field":"x","type":"quantitative","axis":null},"y":{"field":"y","type":"quantitative","axis":null}}},
    {"transform":[{"filter":"datum.k=='mk'&&datum.t=='total'"}],"mark":{"type":"point","shape":"circle","filled":false,"color":"#000","strokeWidth":1.3,"size":40,"opacity":1,"clip":true},"encoding":{"x":{"field":"x","type":"quantitative","axis":null},"y":{"field":"y","type":"quantitative","axis":null}}},
    {"transform":[{"filter":"datum.k=='mk'&&datum.t=='stars'"}],"mark":{"type":"point","shape":"circle","filled":true,"color":"#2036f4","size":40,"opacity":1,"clip":true},"encoding":{"x":{"field":"x","type":"quantitative","axis":null},"y":{"field":"y","type":"quantitative","axis":null}}},
    {"transform":[{"filter":"datum.k=='mk'&&datum.t=='gas'"}],"mark":{"type":"point","shape":"circle","filled":true,"color":"#2be52b","size":40,"opacity":1,"clip":true},"encoding":{"x":{"field":"x","type":"quantitative","axis":null},"y":{"field":"y","type":"quantitative","axis":null}}},
    {"transform":[{"filter":"datum.k=='par'"}],"mark":{"type":"text","text":"V","fontSize":10,"align":"left","baseline":"alphabetic","fill":"#333"},"encoding":{"x":{"datum":0.075,"type":"quantitative","axis":null},"y":{"datum":2.07,"type":"quantitative","axis":null}}},
    {"transform":[{"filter":"datum.k=='par'"}],"mark":{"type":"text","text":"vir","fontSize":7,"align":"left","baseline":"alphabetic","dx":6.7,"dy":3,"fill":"#333"},"encoding":{"x":{"datum":0.075,"type":"quantitative","axis":null},"y":{"datum":2.07,"type":"quantitative","axis":null}}},
    {"transform":[{"filter":"datum.k=='par'"}],"mark":{"type":"text","text":{"expr":"'=' + (datum.v<100?' ':'') + format(datum.v,'.1f')"},"fontSize":10,"align":"left","baseline":"alphabetic","dx":15,"fill":"#333"},"encoding":{"x":{"datum":0.075,"type":"quantitative","axis":null},"y":{"datum":2.07,"type":"quantitative","axis":null}}},
    {"transform":[{"filter":"datum.k=='par'&&datum.M==9"}],"mark":{"type":"rule","color":"#000","strokeWidth":2},"encoding":{"x":{"datum":0.0177,"type":"quantitative","axis":null},"x2":{"datum":0.0358},"y":{"datum":1.89,"type":"quantitative","axis":null}}},
    {"transform":[{"filter":"datum.k=='par'&&datum.M==9"}],"mark":{"type":"rule","color":"#f32b2b","strokeWidth":2},"encoding":{"x":{"datum":0.0177,"type":"quantitative","axis":null},"x2":{"datum":0.0358},"y":{"datum":1.63,"type":"quantitative","axis":null}}},
    {"transform":[{"filter":"datum.k=='par'&&datum.M==9"}],"mark":{"type":"rule","color":"#2036f4","strokeWidth":2},"encoding":{"x":{"datum":0.076,"type":"quantitative","axis":null},"x2":{"datum":0.0966},"y":{"datum":1.89,"type":"quantitative","axis":null}}},
    {"transform":[{"filter":"datum.k=='par'&&datum.M==9"}],"mark":{"type":"rule","color":"#2be52b","strokeWidth":2},"encoding":{"x":{"datum":0.076,"type":"quantitative","axis":null},"x2":{"datum":0.0966},"y":{"datum":1.63,"type":"quantitative","axis":null}}},
    {"transform":[{"filter":"datum.k=='par'&&datum.M==9"}],"mark":{"type":"text","text":"total","fontSize":10.5,"align":"left","baseline":"middle","fill":"#000"},"encoding":{"x":{"datum":0.0422,"type":"quantitative","axis":null},"y":{"datum":1.89,"type":"quantitative","axis":null}}},
    {"transform":[{"filter":"datum.k=='par'&&datum.M==9"}],"mark":{"type":"text","text":"dark","fontSize":10.5,"align":"left","baseline":"middle","fill":"#f32b2b"},"encoding":{"x":{"datum":0.0422,"type":"quantitative","axis":null},"y":{"datum":1.63,"type":"quantitative","axis":null}}},
    {"transform":[{"filter":"datum.k=='par'&&datum.M==9"}],"mark":{"type":"text","text":"stars","fontSize":10.5,"align":"left","baseline":"middle","fill":"#2036f4"},"encoding":{"x":{"datum":0.1002,"type":"quantitative","axis":null},"y":{"datum":1.89,"type":"quantitative","axis":null}}},
    {"transform":[{"filter":"datum.k=='par'&&datum.M==9"}],"mark":{"type":"text","text":"gas","fontSize":10.5,"align":"left","baseline":"middle","fill":"#2be52b"},"encoding":{"x":{"datum":0.1002,"type":"quantitative","axis":null},"y":{"datum":1.63,"type":"quantitative","axis":null}}},
    {"transform":[{"filter":"datum.k=='par'&&datum.M==11"}],"mark":{"type":"text","text":"R/R","fontSize":14,"align":"right","baseline":"alphabetic","dx":3,"fill":"#000"},"encoding":{"x":{"datum":0.07,"type":"quantitative","axis":null},"y":{"datum":-0.73,"type":"quantitative","axis":null}}},
    {"transform":[{"filter":"datum.k=='par'&&datum.M==11"}],"mark":{"type":"text","text":"vir","fontSize":9.5,"align":"left","baseline":"alphabetic","dx":3,"dy":4,"fill":"#000"},"encoding":{"x":{"datum":0.07,"type":"quantitative","axis":null},"y":{"datum":-0.73,"type":"quantitative","axis":null}}}
   ]}}
]
}
